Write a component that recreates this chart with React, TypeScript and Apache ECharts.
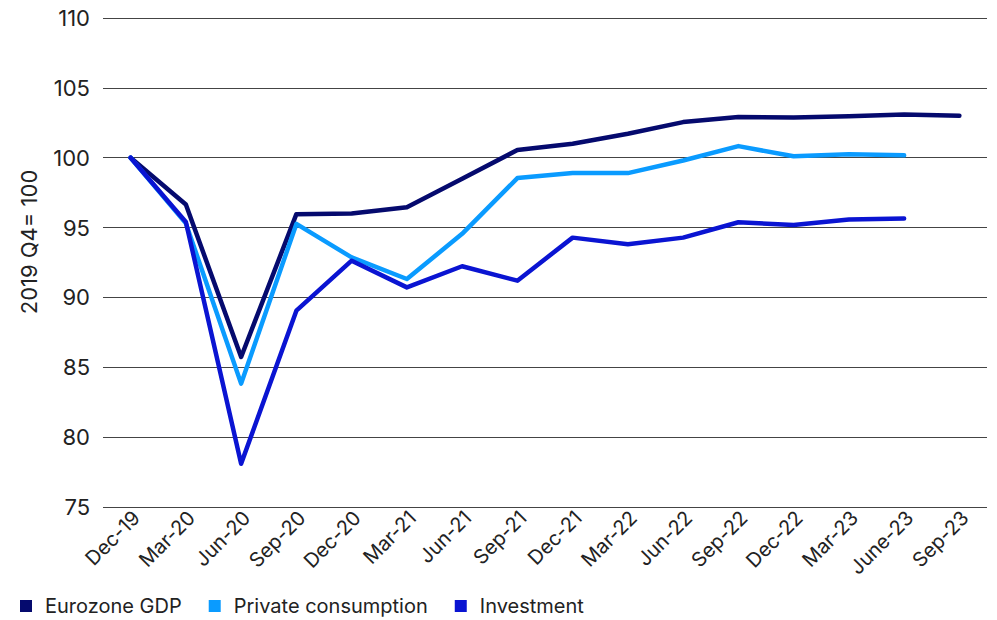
import React, { useEffect, useRef } from "react";
import * as echarts from "echarts";

const categories = ["Dec-19", "Mar-20", "Jun-20", "Sep-20", "Dec-20", "Mar-21", "Jun-21", "Sep-21", "Dec-21", "Mar-22", "Jun-22", "Sep-22", "Dec-22", "Mar-23", "June-23", "Sep-23"];
const gdp = [100, 96.65, 85.74, 95.96, 96.0, 96.46, 98.5, 100.55, 101.0, 101.72, 102.55, 102.91, 102.87, 102.96, 103.1, 103.01];
const privateConsumption = [100, 95.3, 83.83, 95.26, 92.87, 91.32, 94.55, 98.54, 98.9, 98.9, 99.8, 100.83, 100.1, 100.24, 100.17, null];
const investment = [100, 95.4, 78.09, 89.05, 92.63, 90.72, 92.23, 91.2, 94.28, 93.81, 94.28, 95.38, 95.19, 95.57, 95.65, null];
const yAxisTitle = "2019 Q4= 100";

const FONT = "Inter, 'Noto Sans', sans-serif";

export default function App() {
  const ref = useRef<HTMLDivElement>(null);
  useEffect(() => {
    document.body.style.margin = "0";
    const chart = echarts.init(ref.current!, null, { renderer: "svg" });
    const mk = (name: string, data: (number | null)[], color: string) => ({
      name,
      type: "line",
      data,
      symbol: "none",
      lineStyle: { width: 4.5, color, cap: "round", join: "round" },
      itemStyle: { color },
    });
    chart.setOption({
      animation: false,
      textStyle: { fontFamily: FONT },
      grid: { left: 103, right: 10, top: 18, bottom: 113, containLabel: false },
      legend: {
        left: 20,
        top: 596,
        padding: 0,
        icon: "rect",
        itemWidth: 12,
        itemHeight: 12,
        itemGap: 27,
        textStyle: { fontSize: 20, color: "#222", fontFamily: FONT, padding: [0, 0, 0, 8] },
        data: ["Eurozone GDP", "Private consumption", "Investment"],
      },
      graphic: [
        {
          type: "text",
          x: 29,
          y: 242,
          rotation: Math.PI / 2,
          style: {
            text: yAxisTitle,
            fontSize: 22,
            fontFamily: FONT,
            fill: "#222",
            align: "center",
            verticalAlign: "middle",
          },
        },
      ],
      xAxis: {
        type: "category",
        data: categories,
        boundaryGap: true,
        axisLine: { show: false },
        axisTick: { show: false },
        axisLabel: { rotate: 45, fontSize: 20, color: "#222", margin: 13, interval: 0, fontFamily: FONT, padding: [0, -8, 0, 0] },
      },
      yAxis: {
        type: "value",
        min: 75,
        max: 110,
        interval: 5,
        axisLine: { show: false },
        axisTick: { show: false },
        axisLabel: { fontSize: 22, color: "#222", margin: 13, fontFamily: FONT },
        splitLine: { lineStyle: { color: "#444", width: 1 } },
      },
      series: [
        mk("Eurozone GDP", gdp, "#050A6E"),
        mk("Private consumption", privateConsumption, "#0A9BFF"),
        mk("Investment", investment, "#0A14D2"),
      ],
    });
    return () => chart.dispose();
  }, []);
  return <div ref={ref} style={{ width: 997, height: 620 }} />;
}
